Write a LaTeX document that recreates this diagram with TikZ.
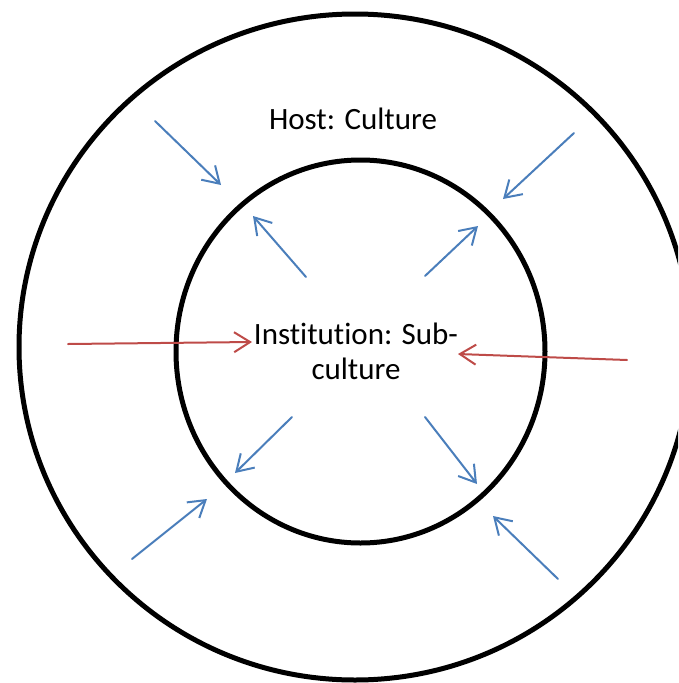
\documentclass[tikz,border=0pt]{standalone}
\usepackage{fontspec}
\setmainfont{Carlito}[Ligatures=NoCommon]
\usetikzlibrary{arrows.meta}
\definecolor{hostblue}{HTML}{4A7EBB}
\definecolor{hostred}{HTML}{BE4B48}
\begin{document}
\begin{tikzpicture}[x=1pt,y=-1pt,line cap=round,line join=round,
  ring/.style={line width=5pt,black},
  flow/.style={line width=2pt,hostblue,-{Straight Barb[length=16pt,width=20pt,line width=2pt]}},
  pull/.style={line width=2pt,hostred,-{Straight Barb[length=16pt,width=20pt,line width=2pt]}},
  lbl/.style={font=\fontsize{31}{35}\selectfont,align=center,inner sep=0pt}]
  \useasboundingbox (0,0) rectangle (678,683);
  \clip (0,0) rectangle (678,683);
  % culture rings
  \draw[ring] (355,347) ellipse (336 and 333);
  \draw[ring] (360.5,351.5) ellipse (184.5 and 191.5);
  \node[lbl] (host) at (353,119) {Host: Culture};
  \node[lbl] (inst) at (356,351) {Institution: Sub-\\culture};
  % blue arrows, tail s and tip e
  \coordinate (b1s) at (155,121);  \coordinate (b1e) at (221,185);
  \coordinate (b2s) at (574,133);  \coordinate (b2e) at (503,199);
  \coordinate (b3s) at (306,277);  \coordinate (b3e) at (253,216);
  \coordinate (b4s) at (425,276);  \coordinate (b4e) at (478,226);
  \coordinate (b5s) at (292,417);  \coordinate (b5e) at (235,473);
  \coordinate (b6s) at (425,417);  \coordinate (b6e) at (477,484);
  \coordinate (b7s) at (132,559);  \coordinate (b7e) at (207,499);
  \coordinate (b8s) at (558,579);  \coordinate (b8e) at (493,516);
  \foreach \i in {1,...,8}
    \draw[flow] (b\i s) -- (b\i e);
  % red arrows
  \coordinate (r1s) at (68,344);   \coordinate (r1e) at (252,342);
  \coordinate (r2s) at (627,360);  \coordinate (r2e) at (458,354);
  \foreach \i in {1,2}
    \draw[pull] (r\i s) -- (r\i e);
\end{tikzpicture}
\end{document}
